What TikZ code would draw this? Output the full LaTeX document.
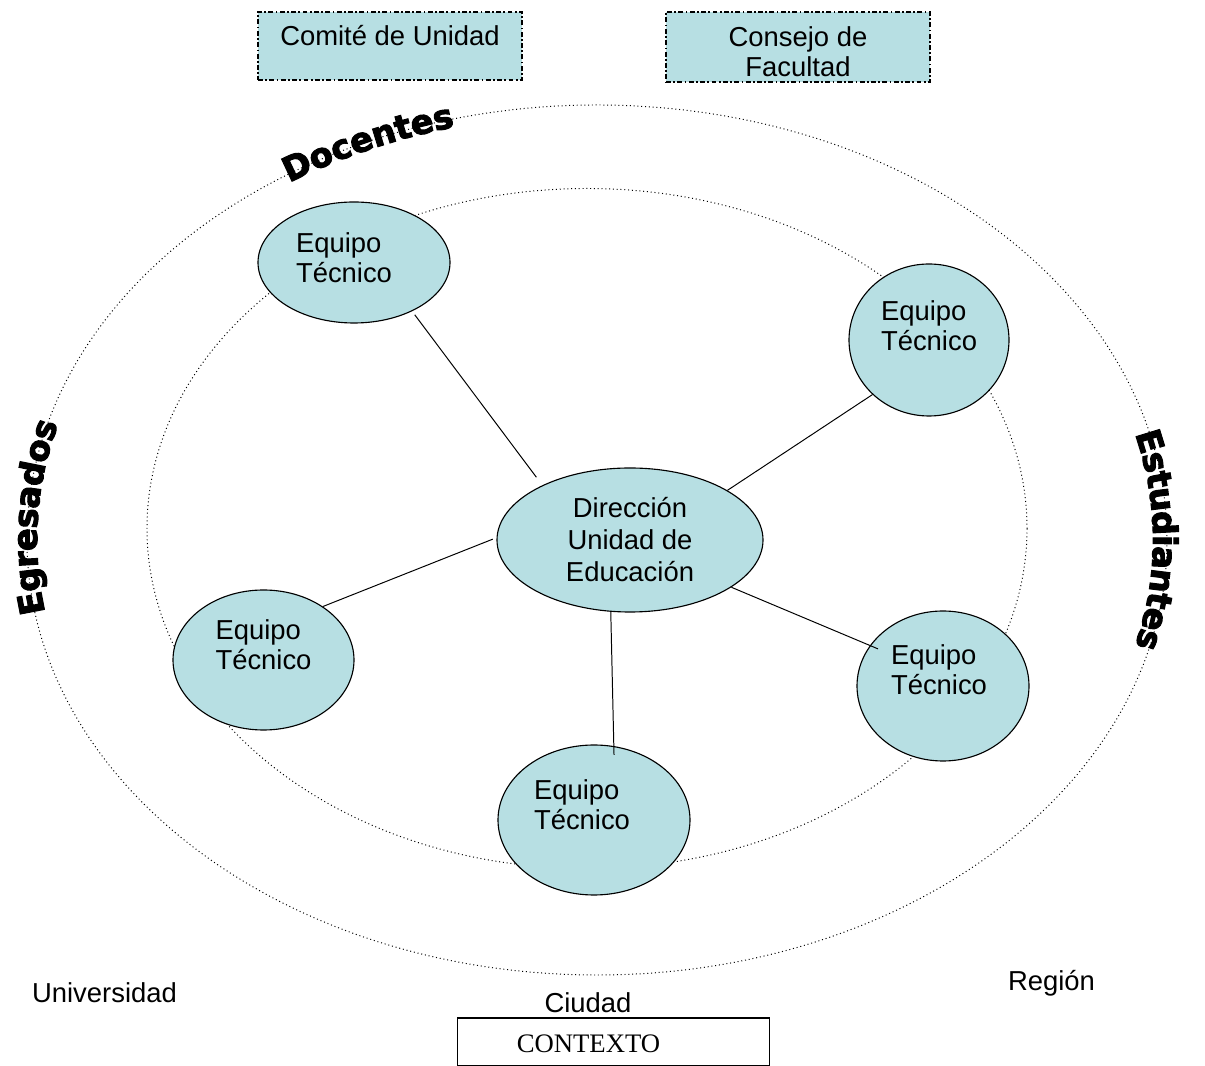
\documentclass[tikz,border=0pt]{standalone}
\usepackage{fontspec}
\setmainfont{Liberation Sans}
\newfontfamily\ctxfont{Liberation Serif}
\newfontfamily\wordart{DejaVu Sans}[UprightFont=* Bold, FakeBold=3]
\usetikzlibrary{positioning,calc,shapes.geometric,decorations.text}
\definecolor{teamfill}{RGB}{183,223,227}

\begin{document}
\begin{tikzpicture}[x=0.25mm, y=0.25mm,
  ringline/.style={draw=black, line width=0.7pt, dotted},
  orgbox/.style={draw=black, fill=teamfill, line width=1pt, dash pattern=on 3.5pt off 1.7pt on 1.2pt off 1.7pt, rectangle, inner sep=0pt, minimum width=66mm, align=center, font=\fontsize{19.5}{22}\selectfont},
  team/.style={draw=black, fill=teamfill, line width=0.8pt, ellipse, inner sep=0pt},
  teamtext/.style={align=left, inner sep=0pt, font=\fontsize{19.5}{21.5}\selectfont},
  spoke/.style={draw=black, line width=0.7pt},
  ringtext/.style={decorate, decoration={text along path, text align=center, text={|\wordart\fontsize{24}{24}\selectfont|#1}}},
  placetext/.style={inner sep=0pt, font=\fontsize{19.5}{22}\selectfont}]
\useasboundingbox (0,0) rectangle (1205,1065);
%%RINGS
\coordinate (outer) at (597,525);
\coordinate (inner) at (587,536.5);
\draw [ringline] (outer) ellipse [x radius=142.5mm, y radius=108.75mm];
\draw [ringline] (inner) ellipse [x radius=110mm, y radius=85mm];
%%RING LABELS
\path [ringtext=Docentes, decoration={raise=-2mm}] ($(outer)+(128:142.5mm and 108.75mm)$) arc [start angle=128, end angle=100, x radius=142.5mm, y radius=108.75mm];
\path [ringtext=Egresados, decoration={raise=-2.5mm}] ($(outer)+(195:142.5mm and 108.75mm)$) arc [start angle=195, end angle=159, x radius=142.5mm, y radius=108.75mm];
\path [ringtext=Estudiantes, decoration={raise=-3.5mm}] ($(outer)+(20:142.5mm and 108.75mm)$) arc [start angle=20, end angle=-20, x radius=142.5mm, y radius=108.75mm];
%%BOARDS
\node (comite) [orgbox, text height=23.5pt, text depth=24.9pt] at (390,1019) {Comité de Unidad};
\node (consejo) [orgbox, text height=46.2pt, text depth=3.6pt] at (798,1018) {Consejo de\\Facultad};
%%TEAMS
\node (dir) [team, minimum width=66.5mm, minimum height=36mm, align=center, font=\fontsize{19.5}{22.75}\selectfont] at (630,525) {Dirección\\Unidad de\\Educación};
\node (tl) [team, minimum width=48mm, minimum height=30.25mm] at (354,802.5) {};
\node (tr) [team, minimum width=40mm, minimum height=38mm] at (929,725) {};
\node (lt) [team, minimum width=45.25mm, minimum height=35mm] at (263.5,405) {};
\node (rt) [team, minimum width=43mm, minimum height=37.5mm] at (943,379) {};
\node (bt) [team, minimum width=48mm, minimum height=37.5mm] at (594,245) {};
%%SPOKES
\draw [spoke, shorten <=2.5mm, shorten >=1.1mm] (dir.148) -- (tl.-40);
\draw [spoke] (dir.27) -- (tr.224);
\draw [spoke, shorten <=1mm] (dir.179) -- (lt.42);
\draw [spoke, shorten >=-2.2mm] (dir.-25) -- (rt.151);
\draw [spoke, shorten >=-2.2mm] (dir.-105) -- (bt.75);
%%TEAM TEXTS
\node (tltext) [teamtext, xshift=-2.5mm, yshift=1.25mm] at (tl) {Equipo\\Técnico};
\node (trtext) [teamtext, yshift=3.5mm] at (tr) {Equipo\\Técnico};
\node (lttext) [teamtext, yshift=3.75mm] at (lt) {Equipo\\Técnico};
\node (rttext) [teamtext, xshift=-1mm, yshift=4mm] at (rt) {Equipo\\Técnico};
\node (bttext) [teamtext, xshift=-3mm, yshift=3.75mm] at (bt) {Equipo\\Técnico};
%%CONTEXT
\node (universidad) [placetext] at (104.5,72.5) {Universidad};
\node (ciudad) [placetext] at (588,62.5) {Ciudad};
\node (region) [placetext] at (1051.5,82) {Región};
\node (contexto) [draw=black, line width=1.2pt, minimum width=78mm, minimum height=12mm, inner sep=0pt] at (613.5,23) {};
\node (contextotext) [inner sep=0pt, font=\ctxfont\fontsize{19}{22}\selectfont, xshift=-6.25mm, yshift=-0.4mm] at (contexto) {CONTEXTO};
\end{tikzpicture}
\end{document}
